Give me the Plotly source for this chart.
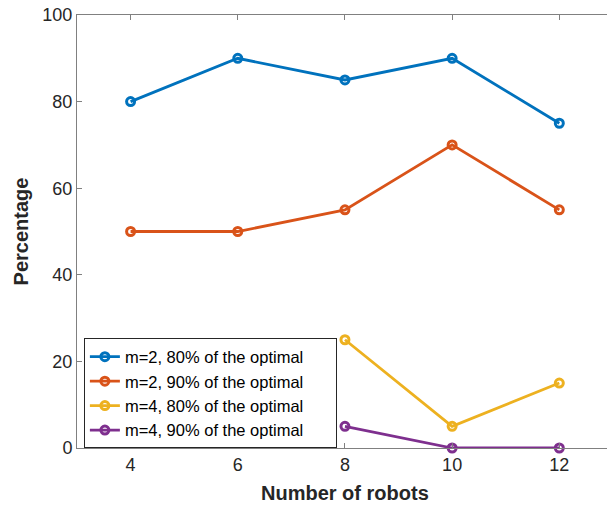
import plotly.graph_objects as go

# Number of robots for each series
robots_m2 = [4, 6, 8, 10, 12]
robots_m4 = [8, 10, 12]

# Percentage of runs reaching the given fraction of the optimal
m2_80 = [80, 90, 85, 90, 75]
m2_90 = [50, 50, 55, 70, 55]
m4_80 = [25, 5, 15]
m4_90 = [5, 0, 0]

series = [
    ("m=2, 80% of the optimal", robots_m2, m2_80, "#0072BD"),
    ("m=2, 90% of the optimal", robots_m2, m2_90, "#D95319"),
    ("m=4, 80% of the optimal", robots_m4, m4_80, "#EDB120"),
    ("m=4, 90% of the optimal", robots_m4, m4_90, "#7E2F8E"),
]

x_ticks = [4, 6, 8, 10, 12]
y_ticks = [0, 20, 40, 60, 80, 100]

# a little right padding inside the legend box
pad = "\u00a0" * 6

fig = go.Figure()
for name, xs, ys, color in series:
    fig.add_trace(go.Scatter(
        x=xs, y=ys, name=name + pad, mode="lines+markers",
        line=dict(color=color, width=2.8),
        marker=dict(symbol="circle-open", size=8, color=color,
                    line=dict(color=color, width=3)),
        cliponaxis=False,
    ))

axis_color = "#262626"
fig.update_layout(
    width=607, height=506,
    margin=dict(l=77, r=0, t=15, b=58),
    paper_bgcolor="white", plot_bgcolor="white",
    font=dict(family="Liberation Sans, Arial, sans-serif", size=18, color=axis_color),
    showlegend=True,
    legend=dict(
        x=0.013, y=0.253, xanchor="left", yanchor="top",
        bgcolor="white", bordercolor=axis_color, borderwidth=1,
        font=dict(size=16.5, color="black"),
        itemwidth=30, tracegroupgap=0,
    ),
    xaxis=dict(
        range=[3, 12.89], tickvals=x_ticks, ticks="inside", ticklen=5,
        tickcolor="#808080", showline=True, linecolor="#808080", linewidth=1,
        mirror="ticks", showgrid=False, zeroline=False,
        tickfont=dict(size=18, color=axis_color),
    ),
    yaxis=dict(
        range=[0, 100], tickvals=y_ticks, ticks="inside", ticklen=5,
        tickcolor="#808080", showline=True, linecolor="#808080", linewidth=1,
        mirror=False, showgrid=False, zeroline=False,
        tickfont=dict(size=18, color=axis_color),
        title=dict(text="<b>Percentage</b>", font=dict(size=20, color=axis_color),
                   standoff=8),
    ),
    annotations=[dict(
        x=8, xref="x", y=-0.104, yref="paper", yanchor="middle",
        text="<b>Number of robots</b>", showarrow=False,
        font=dict(size=20, color=axis_color),
    )],
)

fig.write_html("out.html")
